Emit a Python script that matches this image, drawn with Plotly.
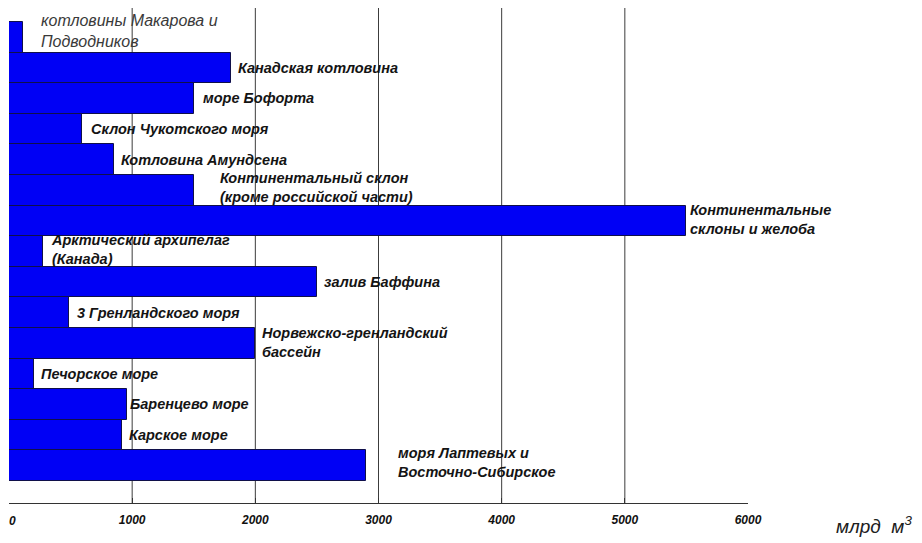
import plotly.graph_objects as go

# ---- data ----
regions = [
    "котловины Макарова и<br>Подводников",
    "Канадская котловина",
    "море Бофорта",
    "Склон Чукотского моря",
    "Котловина Амундсена",
    "Континентальный склон<br>(кроме российской части)",
    "Континентальные<br>склоны и желоба",
    "Арктический архипелаг<br>(Канада)",
    "залив Баффина",
    "3 Гренландского моря",
    "Норвежско-гренландский<br>бассейн",
    "Печорское море",
    "Баренцево море",
    "Карское море",
    "моря Лаптевых и<br>Восточно-Сибирское",
]
volumes = [110, 1800, 1500, 590, 850, 1500, 5500, 280, 2500, 490, 2000, 200, 960, 920, 2900]
x_ticks = [0, 1000, 2000, 3000, 4000, 5000, 6000]
grid_vals = [1000, 2000, 3000, 4000, 5000]
unit_label = "млрд  м<sup>3</sup>"

# ---- label styling (offsets in px) ----
label_dx = [16, 5, 7, 7, 5, 24, 2, 6, 5, 6, 5, 5, 1, 5, 30]
label_dy = [6, 0, 0, 0, 0, 3, 1, 2, 0, 0, 1, 0, 0, 0, 3]

cats = [f"c{i}" for i in range(len(regions))]
FONT = "Liberation Sans, Arial, sans-serif"
TICKFONT = dict(family=FONT, size=12, color="#111", weight="bold", style="italic")

fig = go.Figure()
fig.add_trace(go.Bar(
    x=volumes, y=cats, orientation="h",
    marker=dict(color="#0000F5", line=dict(color="#10104a", width=1)),
    width=1.0, showlegend=False, hoverinfo="skip",
))

for i, (name, v) in enumerate(zip(regions, volumes)):
    first = (i == 0)
    fig.add_annotation(
        x=v, y=cats[i], xref="x", yref="y",
        text=name, showarrow=False, xanchor="left", yanchor="middle", align="left",
        xshift=label_dx[i], yshift=label_dy[i],
        font=dict(family=FONT,
                  size=16 if first else 14.5,
                  color="#3a3a3a" if first else "#141414",
                  weight="normal" if first else "bold", style="italic"),
    )

for g in grid_vals:
    fig.add_shape(type="line", xref="x", yref="paper", x0=g, x1=g, y0=0, y1=1,
                  line=dict(color="#3c3c3c", width=1), layer="below")

# first tick label sits at the page edge: draw it as a left-anchored label
tick_text = [str(t) for t in x_ticks]
fig.add_annotation(
    x=x_ticks[0], y=0, xref="x", yref="paper", xanchor="left", yanchor="middle",
    xshift=-2, yshift=-18, text=tick_text[0], showarrow=False, font=TICKFONT,
)
tick_text[0] = ""

fig.add_annotation(
    xref="paper", yref="paper", x=1.0, y=0, xshift=86, yshift=-22,
    xanchor="left", yanchor="middle", text=unit_label, showarrow=False,
    font=dict(family=FONT, size=19, color="#202020", style="italic"),
)

# page body adds an 8px offset; figure is sized to fit the 922x543 window
fig.update_layout(
    width=914, height=535,
    margin=dict(l=1, r=174, t=0, b=40, autoexpand=False),
    paper_bgcolor="white", plot_bgcolor="white",
    bargap=0,
    xaxis=dict(range=[0, 6000], tickvals=x_ticks, ticktext=tick_text,
               automargin=False,
               showgrid=False, zeroline=False, showline=True, linecolor="#333", linewidth=1,
               ticks="inside", ticklen=5, tickcolor="#333",
               tickfont=TICKFONT, ticklabelstandoff=6),
    yaxis=dict(type="category", categoryorder="array", categoryarray=cats,
               range=[15.22, -0.957], automargin=False,
               showticklabels=False, showgrid=False,
               zeroline=False, showline=False, ticks=""),
)

fig.write_html("out.html")
